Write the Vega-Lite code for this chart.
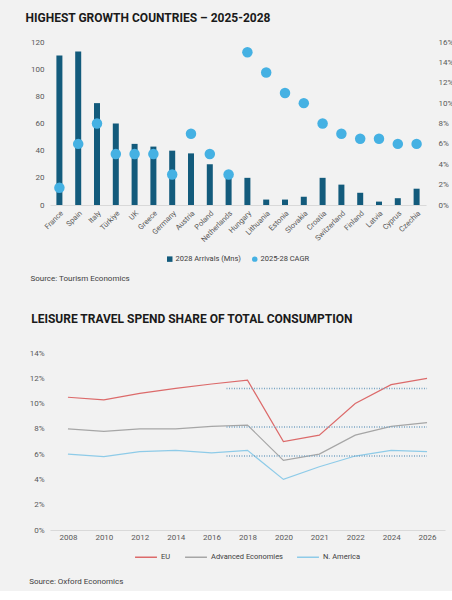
{
  "$schema": "https://vega.github.io/schema/vega-lite/v6.json",
  "background": "#f2f2f2",
  "padding": {"left": 25, "top": 12, "right": 5, "bottom": 5},
  "spacing": 30,
  "resolve": {"scale": {"color": "independent"}, "legend": {"color": "independent"}},
  "config": {
    "font": "Roboto",
    "view": {"stroke": null},
    "axis": {"labelColor": "#595959", "labelFontSize": 8, "ticks": false, "grid": false, "domain": false, "title": null, "labelFont": "Roboto", "labelOverlap": false},
    "legend": {"labelFontSize": 7.5, "labelColor": "#404040", "layout": {"bottom": {"anchor": "middle"}}},
    "title": {"font": "Roboto", "fontWeight": "bold", "fontSize": 12, "color": "#1a1a1a", "anchor": "start"}
  },
  "vconcat": [
    {
      "title": {"text": "HIGHEST GROWTH COUNTRIES – 2025-2028", "offset": 13, "dx": -5},
      "resolve": {"scale": {"color": "independent"}, "legend": {"color": "independent"}},
      "vconcat": [
        {
          "title": {"text": "Source: Tourism Economics", "orient": "bottom", "fontSize": 8, "fontWeight": "normal", "color": "#404040", "offset": 12},
          "resolve": {"scale": {"color": "independent"}, "legend": {"color": "independent"}},
          "vconcat": [
            {
              "width": 376,
              "height": 163,
              "data": {"values": [
                {"country": "France", "arrivals": 110, "cagr": 0.017},
                {"country": "Spain", "arrivals": 113, "cagr": 0.06},
                {"country": "Italy", "arrivals": 75, "cagr": 0.08},
                {"country": "Türkiye", "arrivals": 60, "cagr": 0.05},
                {"country": "UK", "arrivals": 45, "cagr": 0.05},
                {"country": "Greece", "arrivals": 43, "cagr": 0.05},
                {"country": "Germany", "arrivals": 40, "cagr": 0.03},
                {"country": "Austria", "arrivals": 38, "cagr": 0.07},
                {"country": "Poland", "arrivals": 30, "cagr": 0.05},
                {"country": "Netherlands", "arrivals": 20, "cagr": 0.03},
                {"country": "Hungary", "arrivals": 20, "cagr": 0.15},
                {"country": "Lithuania", "arrivals": 4, "cagr": 0.13},
                {"country": "Estonia", "arrivals": 4, "cagr": 0.11},
                {"country": "Slovakia", "arrivals": 6, "cagr": 0.10},
                {"country": "Croatia", "arrivals": 20, "cagr": 0.08},
                {"country": "Switzerland", "arrivals": 15, "cagr": 0.07},
                {"country": "Finland", "arrivals": 9, "cagr": 0.065},
                {"country": "Latvia", "arrivals": 2.5, "cagr": 0.065},
                {"country": "Cyprus", "arrivals": 5, "cagr": 0.06},
                {"country": "Czechia", "arrivals": 12, "cagr": 0.06}
              ]},
              "encoding": {
                "x": {"field": "country", "type": "nominal", "sort": null,
                      "axis": {"labelAngle": -45, "domain": true, "domainColor": "#d9d9d9", "labelPadding": 4, "labelFontSize": 7.5}}
              },
              "layer": [
                {
                  "mark": {"type": "bar", "size": 6},
                  "encoding": {
                    "y": {"field": "arrivals", "type": "quantitative", "scale": {"domain": [0, 120]},
                          "axis": {"orient": "left", "values": [0, 20, 40, 60, 80, 100, 120], "labelPadding": 6}},
                    "color": {"datum": "2028 Arrivals (Mns)", "type": "nominal",
                              "scale": {"domain": ["2028 Arrivals (Mns)", "2025-28 CAGR"], "range": ["#135b7c", "#45b1e3"]},
                              "legend": {"orient": "bottom", "title": null, "direction": "horizontal", "symbolSize": 30, "columnPadding": 10, "labelOffset": 2, "offset": 12,
                                         "encode": {"symbols": {"update": {"shape": {"signal": "datum.value == '2025-28 CAGR' ? 'circle' : 'square'"}}}}}}
                  }
                },
                {
                  "mark": {"type": "circle", "size": 110, "opacity": 1},
                  "encoding": {
                    "y": {"field": "cagr", "type": "quantitative", "scale": {"domain": [0, 0.16]},
                          "axis": {"orient": "right", "values": [0, 0.02, 0.04, 0.06, 0.08, 0.1, 0.12, 0.14, 0.16], "format": ".0%", "labelPadding": 12}},
                    "color": {"datum": "2025-28 CAGR", "type": "nominal"}
                  }
                }
              ],
              "resolve": {"scale": {"y": "independent"}}
            }
          ]
        }
      ]
    },
    {
      "title": {"text": "LEISURE TRAVEL SPEND SHARE OF TOTAL CONSUMPTION", "offset": 23, "dx": 2},
      "resolve": {"scale": {"color": "independent"}, "legend": {"color": "independent"}},
      "vconcat": [
        {
          "title": {"text": "Source: Oxford Economics", "orient": "bottom", "fontSize": 8, "fontWeight": "normal", "color": "#404040", "offset": 17},
          "resolve": {"scale": {"color": "independent"}, "legend": {"color": "independent"}},
          "vconcat": [
            {
              "width": 395,
              "height": 177,
              "encoding": {
                "x": {"field": "year", "type": "ordinal", "scale": {"type": "point", "padding": 0.5},
                      "axis": {"labelAngle": 0, "domain": true, "domainColor": "#d9d9d9", "labelPadding": 3}},
                "y": {"field": "value", "type": "quantitative", "scale": {"domain": [0, 14]},
                      "axis": {"values": [0, 2, 4, 6, 8, 10, 12, 14], "labelExpr": "datum.value + '%'", "labelPadding": 6, "labelOverlap": false, "labelFlush": false}}
              },
              "layer": [
                {
                  "data": {"values": [
                    {"year": "2008", "series": "EU", "value": 10.5},
                    {"year": "2010", "series": "EU", "value": 10.3},
                    {"year": "2012", "series": "EU", "value": 10.8},
                    {"year": "2014", "series": "EU", "value": 11.2},
                    {"year": "2016", "series": "EU", "value": 11.55},
                    {"year": "2018", "series": "EU", "value": 11.85},
                    {"year": "2020", "series": "EU", "value": 7.0},
                    {"year": "2021", "series": "EU", "value": 7.5},
                    {"year": "2022", "series": "EU", "value": 10.0},
                    {"year": "2024", "series": "EU", "value": 11.5},
                    {"year": "2026", "series": "EU", "value": 12.0},
                    {"year": "2008", "series": "Advanced Economies", "value": 8.0},
                    {"year": "2010", "series": "Advanced Economies", "value": 7.8},
                    {"year": "2012", "series": "Advanced Economies", "value": 8.0},
                    {"year": "2014", "series": "Advanced Economies", "value": 8.0},
                    {"year": "2016", "series": "Advanced Economies", "value": 8.2},
                    {"year": "2018", "series": "Advanced Economies", "value": 8.3},
                    {"year": "2020", "series": "Advanced Economies", "value": 5.5},
                    {"year": "2021", "series": "Advanced Economies", "value": 6.0},
                    {"year": "2022", "series": "Advanced Economies", "value": 7.5},
                    {"year": "2024", "series": "Advanced Economies", "value": 8.2},
                    {"year": "2026", "series": "Advanced Economies", "value": 8.5},
                    {"year": "2008", "series": "N. America", "value": 6.0},
                    {"year": "2010", "series": "N. America", "value": 5.8},
                    {"year": "2012", "series": "N. America", "value": 6.2},
                    {"year": "2014", "series": "N. America", "value": 6.3},
                    {"year": "2016", "series": "N. America", "value": 6.1},
                    {"year": "2018", "series": "N. America", "value": 6.3},
                    {"year": "2020", "series": "N. America", "value": 4.0},
                    {"year": "2021", "series": "N. America", "value": 5.0},
                    {"year": "2022", "series": "N. America", "value": 5.85},
                    {"year": "2024", "series": "N. America", "value": 6.3},
                    {"year": "2026", "series": "N. America", "value": 6.2}
                  ]},
                  "mark": {"type": "line", "strokeWidth": 1.2},
                  "encoding": {
                    "color": {"field": "series", "type": "nominal", "sort": null,
                              "scale": {"domain": ["EU", "Advanced Economies", "N. America"], "range": ["#dc6a6a", "#a6a6a6", "#8ecbe8"]},
                              "legend": {"orient": "bottom", "title": null, "direction": "horizontal", "symbolType": "stroke", "symbolStrokeWidth": 1.5, "symbolSize": 480, "columnPadding": 11, "labelOffset": 3, "offset": 4}}
                  }
                },
                {
                  "data": {"values": [
                    {"value": 11.2, "year": "2018", "end": "2026"},
                    {"value": 8.15, "year": "2018", "end": "2026"},
                    {"value": 5.85, "year": "2018", "end": "2026"}
                  ]},
                  "mark": {"type": "rule", "strokeDash": [1, 1.5], "strokeWidth": 1.5, "color": "#7aa5c4", "xOffset": -21},
                  "encoding": {
                    "x2": {"field": "end"}
                  }
                }
              ]
            }
          ]
        }
      ]
    }
  ]
}
